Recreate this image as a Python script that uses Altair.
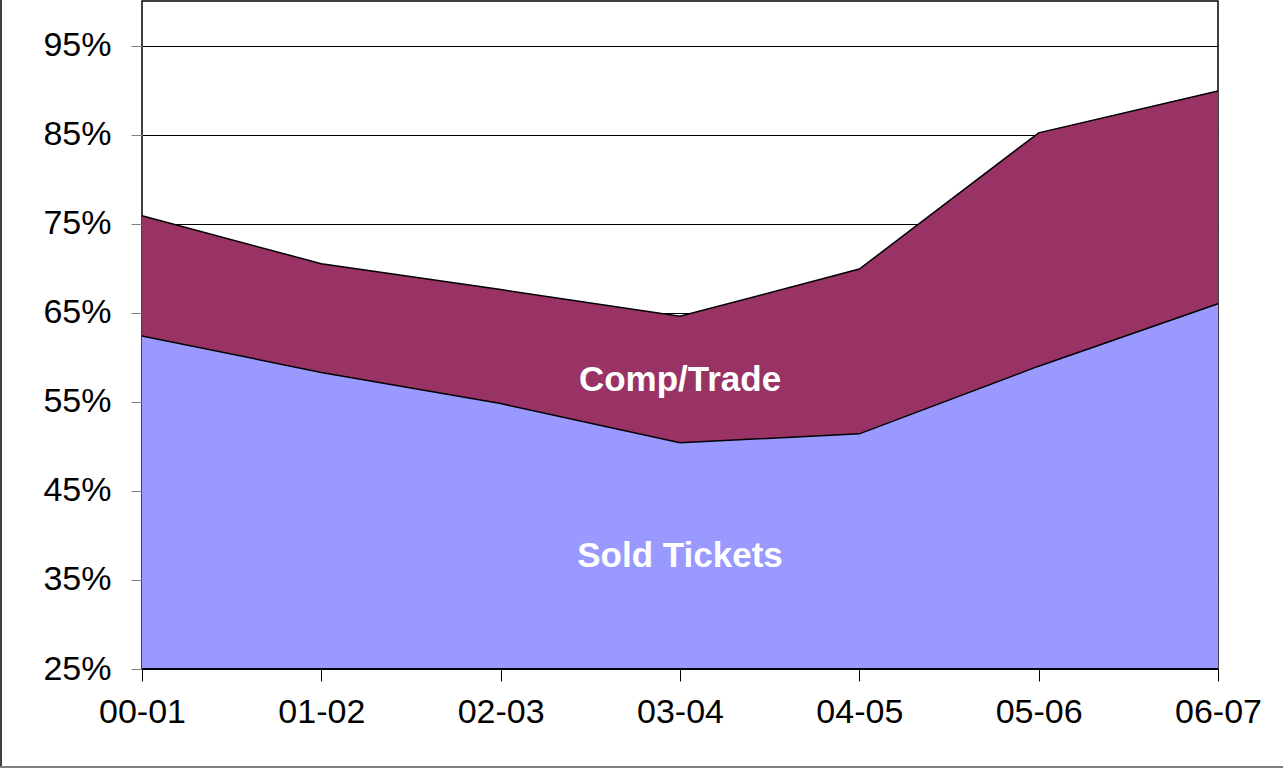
import altair as alt
import pandas as pd

seasons = ["00-01", "01-02", "02-03", "03-04", "04-05", "05-06", "06-07"]
sold = [0.624, 0.583, 0.548, 0.504, 0.514, 0.590, 0.660]
total = [0.759, 0.705, 0.676, 0.646, 0.699, 0.852, 0.899]
base_val = 0.25
tick_vals = [0.25, 0.35, 0.45, 0.55, 0.65, 0.75, 0.85, 0.95]
label_names = ["Comp/Trade", "Sold Tickets"]
label_x = ["03-04", "03-04"]
label_y = [0.575, 0.377]

df = pd.DataFrame({"season": seasons, "sold": sold, "total": total,
                   "base": [base_val] * len(seasons)})
lab = pd.DataFrame({"season": label_x, "y": label_y, "text": label_names})

FONT = "Liberation Sans"

x_enc = alt.X("season:N", sort=seasons, scale=alt.Scale(type="point", padding=0),
              axis=alt.Axis(title=None, labelFontSize=34, labelFont=FONT, labelColor="black",
                            labelPadding=14, tickSize=12, tickColor="black", domain=False,
                            grid=False, labelAngle=0))
y_scale = alt.Scale(domain=[0.25, 1.0], nice=False, zero=False)
y_axis = alt.Axis(title=None, values=tick_vals, format=".0%", labelFontSize=34, labelFont=FONT,
                  labelColor="black", labelPadding=20, tickSize=11, tickColor="#808080",
                  domain=False, grid=True, gridColor="black", gridWidth=1)

base = alt.Chart(df)

sold_area = base.mark_area(color="#9999FF", opacity=1).encode(
    x=x_enc, y=alt.Y("base:Q", scale=y_scale, axis=y_axis), y2="sold:Q")
comp_area = base.mark_area(color="#993366", opacity=1).encode(
    x="season:N", y=alt.Y("sold:Q", scale=y_scale), y2="total:Q")
sold_line = base.mark_line(color="black", strokeWidth=1.5).encode(
    x="season:N", y=alt.Y("sold:Q", scale=y_scale))
total_line = base.mark_line(color="black", strokeWidth=1.5).encode(
    x="season:N", y=alt.Y("total:Q", scale=y_scale))
bottom_line = base.mark_line(color="black", strokeWidth=2).encode(
    x="season:N", y=alt.Y("base:Q", scale=y_scale))

labels = alt.Chart(lab).mark_text(color="white", fontSize=35, fontWeight="bold", font=FONT,
                                  align="center", baseline="middle").encode(
    x="season:N", y=alt.Y("y:Q", scale=y_scale), text="text:N")

left_border = alt.Chart(df).mark_rule(color="#404040", strokeWidth=1).encode(
    x=alt.value(-141), y=alt.value(-1), y2=alt.value(767))
bottom_border = alt.Chart(df).mark_rule(color="#808080", strokeWidth=2).encode(
    x=alt.value(-142), x2=alt.value(1141), y=alt.value(766))

chart = alt.layer(sold_area, comp_area, sold_line, total_line, bottom_line, labels,
                  left_border, bottom_border).properties(
    width=1076, height=668,
    autosize=alt.AutoSizeParams(type="none"),
    padding={"left": 142, "top": 1, "right": 65, "bottom": 100},
    background="white",
).configure_view(stroke="black", strokeWidth=1.5)

chart.save("out.html", embed_options={"renderer": "svg", "actions": False})
